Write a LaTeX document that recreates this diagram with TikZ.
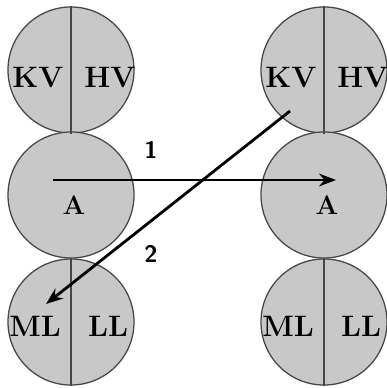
\documentclass[tikz,border=0pt]{standalone}
\usepackage{tikz}
\usetikzlibrary{arrows.meta,positioning,calc}
\definecolor{ballColor}{RGB}{200,200,200}
\definecolor{rimColor}{RGB}{70,70,70}

\begin{document}
\begin{tikzpicture}[x=0.025cm,y=-0.025cm,>=Stealth,
 ball/.style={circle,draw=rimColor,line width=0.9pt,fill=ballColor,minimum size=3.15cm,inner sep=0pt},
 split/.style={draw=rimColor,line width=0.9pt},
 lab/.style={font=\fontsize{21}{22}\selectfont\bfseries,inner sep=0pt},
 mid/.style={font=\fontsize{19}{20}\selectfont\bfseries,inner sep=0pt},
 num/.style={font=\fontsize{17}{18}\selectfont\sffamily\bfseries,inner sep=0pt},
 arrow/.style={->,line width=2pt}]
\useasboundingbox (0,0) rectangle (387,388);
% left column
\node[ball] (topL) at (71,70) {};
\node[ball] (midL) at (71,195) {};
\node[ball] (botL) at (71,322) {};
% right column
\node[ball] (topR) at (324,70) {};
\node[ball] (midR) at (324,195) {};
\node[ball] (botR) at (324,322) {};
\draw[split] (topL.north) -- (topL.south);\draw[split] (botL.north) -- (botL.south);
\draw[split] (topR.north) -- (topR.south);\draw[split] (botR.north) -- (botR.south);
\node[lab] (kvL) at (38,78) {KV};\node[lab] (hvL) at (110,78) {HV};
\node[lab] (kvR) at (291,78) {KV};\node[lab] (hvR) at (363,78) {HV};
\node[lab] (mlL) at (35,326) {ML};\node[lab] (llL) at (108,326) {LL};
\node[lab] (mlR) at (288,326) {ML};\node[lab] (llR) at (361,326) {LL};
\node[mid] (aL) at (74,205) {A};\node[mid] (aR) at (327,205) {A};
\coordinate (from1) at (53,180);\coordinate (to1) at (336,180);
\coordinate (from2) at (290,111);\coordinate (to2) at (46,304);
\draw[arrow] (from1) -- (to1);
\draw[arrow] (from2) -- (to2);
\node[num] (one) at (151,150) {1};
\node[num] (two) at (151,254) {2};
\end{tikzpicture}
\end{document}
